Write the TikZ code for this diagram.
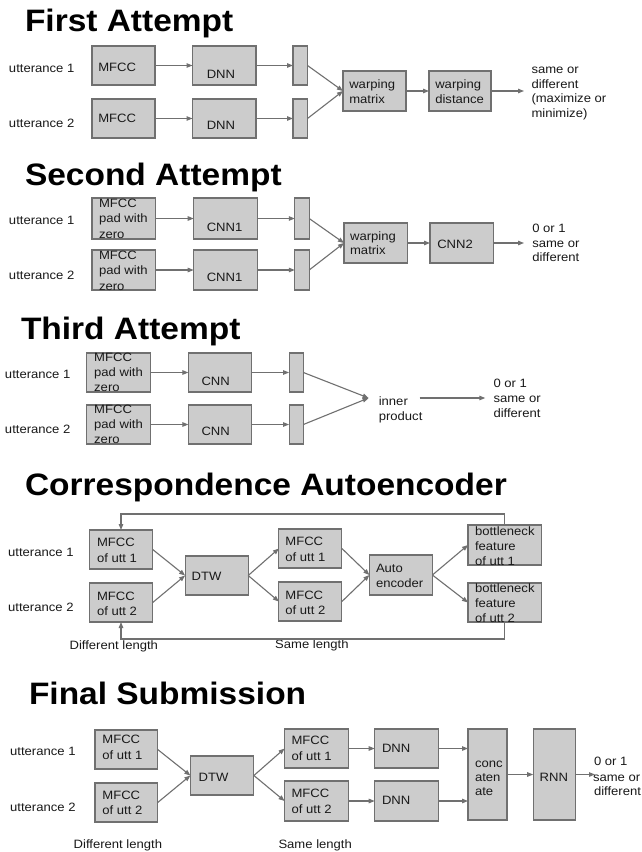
\documentclass[tikz,border=0pt]{standalone}
\usepackage{fontspec}
\setmainfont[FakeStretch=1.08]{Liberation Sans}
\usetikzlibrary{arrows.meta}
\definecolor{linec}{HTML}{707070}
\definecolor{boxc}{HTML}{CCCCCC}
\tikzset{
 gb/.style={draw=linec, fill=boxc, line width=1.1pt, rectangle, inner sep=0pt, outer sep=0pt},
 tx/.style={anchor=base west, inner sep=0pt, outer sep=0pt, font=\fontsize{12.1}{14}\selectfont, text=black!90},
 ttl/.style={anchor=base west, inner sep=0pt, outer sep=0pt, font=\fontsize{31}{33}\selectfont\bfseries},
 ar/.style={draw=linec, line width=1.1pt, -{Triangle[length=6pt,width=4.5pt]}},
 ln/.style={draw=linec, line width=1.1pt},
}
\newcommand\gbox[5]{\node[gb, minimum width={(#4-#2)*1pt}, minimum height={(#5-#3)*1pt}] (#1) at ({(#2+#4)/2},{(#3+#5)/2}) {};}
\newcommand\tx[4]{\node[tx] (#1) at (#2,#3) {#4};}
\begin{document}
\begin{tikzpicture}[x=1pt,y=-1pt]
\useasboundingbox[fill=white] (0,0) rectangle (642,852);
% ---------------- First Attempt
\node[ttl] (T1) at (25,31) {First Attempt};
\tx{u11}{9}{72.5}{utterance 1}
\tx{u12}{9}{127.5}{utterance 2}
\gbox{a1}{92}{46}{155}{85}
\gbox{a2}{92}{99}{155}{138}
\gbox{b1}{192.5}{46}{256}{85}
\gbox{b2}{192.5}{99}{256}{138}
\gbox{c1}{293}{46}{307.5}{85}
\gbox{c2}{293}{99}{307.5}{138}
\gbox{wm}{343}{71}{406}{111}
\gbox{wd}{429}{71}{491}{111}
\coordinate (o1) at (524,91);
\tx{a1t}{98.3}{71}{MFCC}
\tx{a2t}{98.3}{122.5}{MFCC}
\tx{b1t}{206.8}{78.5}{DNN}
\tx{b2t}{206.8}{129.5}{DNN}
\tx{wma}{349.3}{88.5}{warping}
\tx{wmb}{349.3}{103}{matrix}
\tx{wda}{435.3}{88.5}{warping}
\tx{wdb}{435.3}{103}{distance}
\tx{r1a}{531.5}{73.5}{same or}
\tx{r1b}{531.5}{88}{different}
\tx{r1c}{531.5}{102.5}{(maximize or}
\tx{r1d}{531.5}{117}{minimize)}
\draw[ar] (a1) -- (b1);
\draw[ar] (b1) -- (c1);
\draw[ar] (a2) -- (b2);
\draw[ar] (b2) -- (c2);
\draw[ar] (c1.east) -- (wm.west);
\draw[ar] (c2.east) -- (wm.west);
\draw[ar] (wm) -- (wd);
\draw[ar] (wd) -- (o1);
% ---------------- Second Attempt
\node[ttl] (T2) at (25,185) {Second Attempt};
\tx{u21}{9}{224}{utterance 1}
\tx{u22}{9}{279}{utterance 2}
\gbox{p1}{92}{198}{155.6}{239}
\gbox{p2}{92}{250}{155.6}{290}
\gbox{q1}{193.7}{198}{257.2}{239}
\gbox{q2}{193.7}{250}{257.2}{290}
\gbox{r1}{294.8}{198}{309.2}{239}
\gbox{r2}{294.8}{250}{309.2}{290}
\gbox{wm2}{344}{223}{407.5}{263}
\gbox{cn2}{430}{223}{493.5}{263}
\coordinate (o2) at (524,243);
\tx{p1a}{99}{207}{MFCC}
\tx{p1b}{99}{222.5}{pad with}
\tx{p1c}{99}{238}{zero}
\tx{p2a}{99}{259}{MFCC}
\tx{p2b}{99}{274.5}{pad with}
\tx{p2c}{99}{290}{zero}
\tx{q1t}{206.8}{231}{CNN1}
\tx{q2t}{206.8}{281}{CNN1}
\tx{wm2a}{350.1}{240}{warping}
\tx{wm2b}{350.1}{254.5}{matrix}
\tx{cn2t}{437.3}{248}{CNN2}
\tx{r2a}{532.3}{232}{0 or 1}
\tx{r2b}{532.3}{247}{same or}
\tx{r2c}{532.3}{261.5}{different}
\draw[ar] (p1) -- (q1);
\draw[ar] (q1) -- (r1);
\draw[ar] (p2) -- (q2);
\draw[ar] (q2) -- (r2);
\draw[ar] (r1.east) -- (wm2.west);
\draw[ar] (r2.east) -- (wm2.west);
\draw[ar] (wm2) -- (cn2);
\draw[ar] (cn2) -- (o2);
% ---------------- Third Attempt
\node[ttl] (T3) at (21,339) {Third Attempt};
\tx{u31}{5}{378}{utterance 1}
\tx{u32}{5}{433}{utterance 2}
\gbox{m31}{86.8}{353}{150.3}{392}
\gbox{m32}{86.8}{405}{150.3}{444}
\gbox{c31}{188.4}{353}{251.4}{392}
\gbox{c32}{188.4}{405}{251.4}{444}
\gbox{s31}{289.1}{353}{303.4}{392}
\gbox{s32}{289.1}{405}{303.4}{444}
\coordinate (ip) at (368.6,398);
\coordinate (ipa) at (419.7,398);
\coordinate (ipb) at (485.3,398);
\tx{m31a}{94.2}{361.5}{MFCC}
\tx{m31b}{94.2}{376.5}{pad with}
\tx{m31c}{94.2}{391.5}{zero}
\tx{m32a}{94.2}{413.5}{MFCC}
\tx{m32b}{94.2}{428.5}{pad with}
\tx{m32c}{94.2}{443.5}{zero}
\tx{c31t}{201.5}{385}{CNN}
\tx{c32t}{201.5}{435}{CNN}
\tx{ipt1}{378.8}{405}{inner}
\tx{ipt2}{378.8}{420}{product}
\tx{r3a}{493.5}{387.5}{0 or 1}
\tx{r3b}{493.5}{402.5}{same or}
\tx{r3c}{493.5}{417.5}{different}
\draw[ar] (m31) -- (c31);
\draw[ar] (c31) -- (s31);
\draw[ar] (m32) -- (c32);
\draw[ar] (c32) -- (s32);
\draw[ar] (s31.east) -- (ip);
\draw[ar] (s32.east) -- (ip);
\draw[ar] (ipa) -- (ipb);
% ---------------- Correspondence Autoencoder
\node[ttl] (T4) at (25,495) {Correspondence Autoencoder};
\tx{u41}{8.2}{556}{utterance 1}
\tx{u42}{8.2}{611}{utterance 2}
\gbox{e1}{89.3}{530}{152.7}{569}
\gbox{e2}{89.3}{583}{152.7}{622}
\gbox{dtw}{185.1}{556}{248.2}{595}
\gbox{f1}{278.9}{529}{341.9}{568}
\gbox{f2}{278.9}{582}{341.9}{621}
\gbox{ae}{369.4}{555}{432.4}{595}
\gbox{g1}{468}{525}{541.8}{565}
\gbox{g2}{468}{583}{541.8}{622}
\coordinate (topy) at (0,514);
\coordinate (boty) at (0,639);
\tx{e1a}{97}{546.5}{MFCC}
\tx{e1b}{97}{562}{of utt 1}
\tx{e2a}{97}{600}{MFCC}
\tx{e2b}{97}{615}{of utt 2}
\tx{dtwt}{191.6}{580}{DTW}
\tx{f1a}{285.4}{545.5}{MFCC}
\tx{f1b}{285.4}{561}{of utt 1}
\tx{f2a}{285.4}{599}{MFCC}
\tx{f2b}{285.4}{614.5}{of utt 2}
\tx{aea}{376}{572.5}{Auto}
\tx{aeb}{376}{587.5}{encoder}
\tx{g1a}{475}{535}{bottleneck}
\tx{g1b}{475}{550}{feature}
\tx{g1c}{475}{565}{of utt 1}
\tx{g2a}{475}{592}{bottleneck}
\tx{g2b}{475}{607.5}{feature}
\tx{g2c}{475}{622.5}{of utt 2}
\tx{dl4}{69.6}{649}{Different length}
\tx{sl4}{275.2}{648}{Same length}
\draw[ar] (e1.east) -- (dtw.west);
\draw[ar] (e2.east) -- (dtw.west);
\draw[ar] (dtw.east) -- (f1.west);
\draw[ar] (dtw.east) -- (f2.west);
\draw[ar] (f1.east) -- (ae.west);
\draw[ar] (f2.east) -- (ae.west);
\draw[ar] (ae.east) -- (g1.west);
\draw[ar] (ae.east) -- (g2.west);
\draw[ar] (g1.north) -- (g1.north |- topy) -| (e1.north);
\draw[ar] (g2.south) -- (g2.south |- boty) -| (e2.south);
% ---------------- Final Submission
\node[ttl] (T5) at (29,704) {Final Submission};
\tx{u51}{10.2}{755}{utterance 1}
\tx{u52}{10.2}{811}{utterance 2}
\gbox{h1}{95}{730}{157.7}{769}
\gbox{h2}{95}{783}{157.7}{822}
\gbox{dtw5}{190.4}{756}{253.9}{795}
\gbox{k1}{284.6}{729}{348.1}{768}
\gbox{k2}{284.6}{781}{348.1}{821}
\gbox{n1}{374.7}{729}{438.2}{768}
\gbox{n2}{374.7}{781}{438.2}{821}
\gbox{cat}{468}{729}{507}{820}
\gbox{rnn}{533.2}{729}{575.3}{820}
\coordinate (o5) at (595,774.5);
\tx{h1a}{102.4}{743.5}{MFCC}
\tx{h1b}{102.4}{759}{of utt 1}
\tx{h2a}{102.4}{799.5}{MFCC}
\tx{h2b}{102.4}{814.5}{of utt 2}
\tx{dtw5t}{198.6}{781}{DTW}
\tx{k1a}{291.6}{744}{MFCC}
\tx{k1b}{291.6}{760}{of utt 1}
\tx{k2a}{291.6}{797.5}{MFCC}
\tx{k2b}{291.6}{813.5}{of utt 2}
\tx{n1t}{382}{752.5}{DNN}
\tx{n2t}{382}{804.5}{DNN}
\tx{cata}{475}{767}{conc}
\tx{catb}{475}{781}{aten}
\tx{catc}{475}{795}{ate}
\tx{rnnt}{539.7}{781}{RNN}
\tx{r5a}{594}{765}{0 or 1}
\tx{r5b}{593}{781}{same or}
\tx{r5c}{594}{795}{different}
\tx{dl5}{73.7}{848}{Different length}
\tx{sl5}{278.5}{848}{Same length}
\draw[ar] (h1.east) -- (dtw5.west);
\draw[ar] (h2.east) -- (dtw5.west);
\draw[ar] (dtw5.east) -- (k1.west);
\draw[ar] (dtw5.east) -- (k2.west);
\draw[ar] (k1) -- (n1);
\draw[ar] (k2) -- (n2);
\draw[ar] (n1.east) -- (n1.east -| cat.west);
\draw[ar] (n2.east) -- (n2.east -| cat.west);
\draw[ar] (cat) -- (rnn);
\draw[ar] (rnn) -- (o5);
\end{tikzpicture}
\end{document}
